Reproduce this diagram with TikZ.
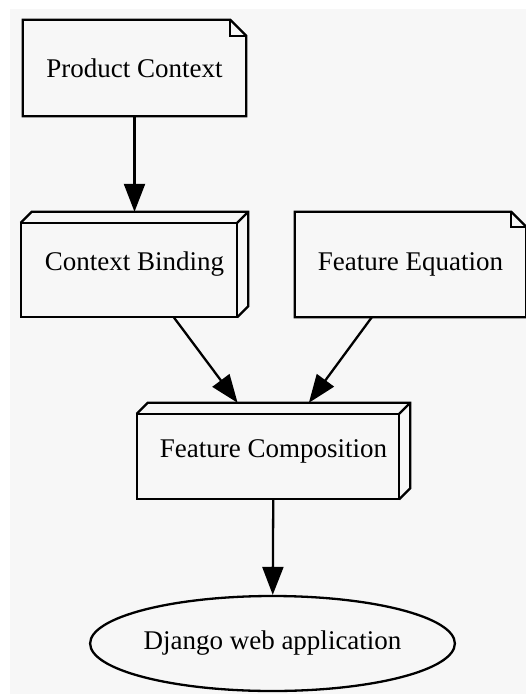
\documentclass[tikz,border=0pt]{standalone}
\usepackage{fontspec}
\setmainfont{Liberation Serif}
\usetikzlibrary{shapes.geometric,arrows.meta}
\definecolor{bggray}{HTML}{F7F7F7}
\tikzset{
  outline/.style={draw=black, line width=2.3pt, line join=miter},
  box/.style={draw=none, fill=none, inner sep=0pt, rectangle,
    font=\fontsize{27}{32}\selectfont},
  oval/.style={draw=black, line width=2.3pt, ellipse, inner sep=0pt,
    fill=bggray, font=\fontsize{27}{32}\selectfont},
  edge/.style={draw=black, line width=2.3pt, -{Triangle[length=28pt,width=21pt]}},
}
\begin{document}
\begin{tikzpicture}[x=1pt,y=-1pt]
\useasboundingbox (0,0) rectangle (526,694);
\fill[bggray] (10,9) rectangle (526,694);

% nodes (positions in pixel coordinates)
\node[box, minimum width=223pt, minimum height=96pt] (pc) at (134.5,68) {Product Context};
\node[box, minimum width=227pt, minimum height=105pt] (cb) at (134.5,264.5) {Context Binding};
\node[box, minimum width=231pt, minimum height=105pt] (fe) at (410.5,264.5) {Feature Equation};
\node[box, minimum width=273pt, minimum height=96pt] (fc) at (273.5,451) {Feature Composition};
\node[oval, minimum width=361pt, minimum height=95pt] (dj) at (272.5,643.5) {Django web application};

% note outlines
\foreach \n/\f in {pc/16, fe/15} {
  \draw[outline] (\n.north west) -- ([xshift=-\f pt]\n.north east)
     -- ([yshift=-\f pt]\n.north east) -- (\n.south east) -- (\n.south west) -- cycle;
  \draw[outline] ([xshift=-\f pt]\n.north east) -- ([xshift=-\f pt,yshift=-\f pt]\n.north east)
     -- ([yshift=-\f pt]\n.north east);
}

% 3d box outlines
\foreach \n in {cb, fc} {
  \draw[outline] ([yshift=-11pt]\n.north west) -- ([xshift=11pt]\n.north west)
     -- (\n.north east) -- ([yshift=11pt]\n.south east) -- ([xshift=-11pt]\n.south east);
  \draw[outline] ([xshift=-11pt,yshift=-11pt]\n.north east) -- (\n.north east);
  \draw[outline] (\n.south west) rectangle ([xshift=-11pt,yshift=-11pt]\n.north east);
}

% connectors
\draw[edge] (pc) -- (cb);
\draw[edge] (cb) -- (fc);
\draw[edge] (fe) -- (fc);
\draw[edge] (fc) -- (dj);
\end{tikzpicture}
\end{document}
